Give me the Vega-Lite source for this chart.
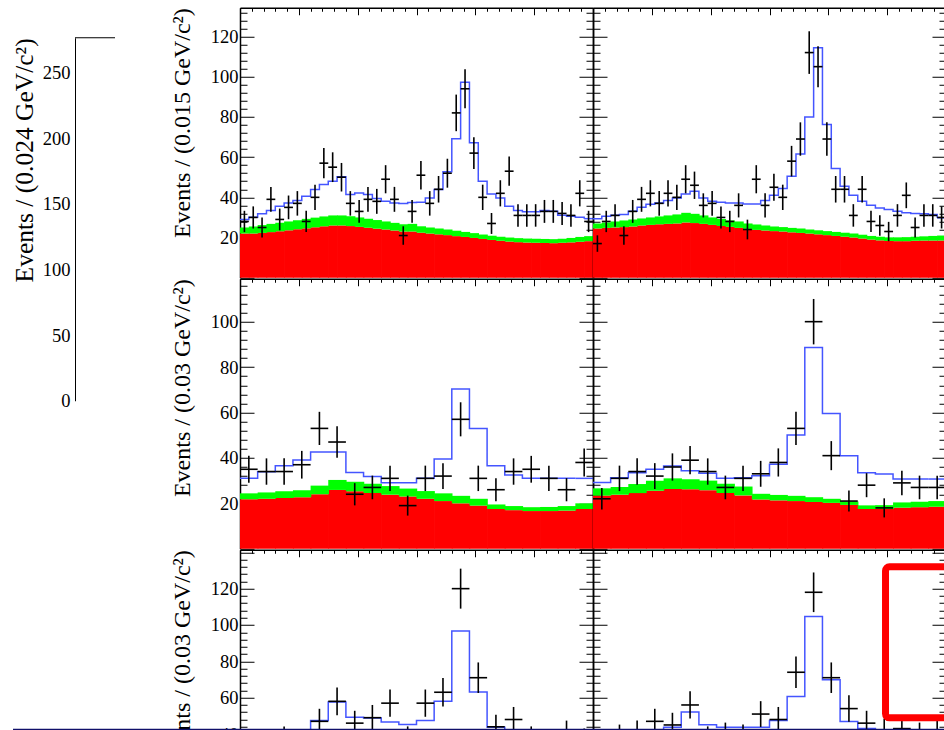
{
"$schema": "https://vega.github.io/schema/vega-lite/v6.json",
"background": "white",
"padding": {"left": 12, "top": 6.75, "right": 0, "bottom": 0},
"config": {
  "view": {"stroke": null},
  "axis": {"grid": false, "tickColor": "black", "tickWidth": 1, "domainColor": "black", "domainWidth": 1.5, "labelFont": "Liberation Serif", "titleFont": "Liberation Serif", "labelColor": "black", "titleColor": "black", "titleFontWeight": "normal", "labelFlush": false, "labelOverlap": false}
},
"columns": 3,
"spacing": {"row": 1, "column": 0},
"bounds": "flush",
"datasets": {
"tl": [
{"lo":1.000,"hi":1.015,"mid":1.0075,"n":28,"err":5.3,"red":22.0,"green":25.0,"fit":29.0},
{"lo":1.015,"hi":1.030,"mid":1.0225,"n":30,"err":5.5,"red":22.0,"green":25.5,"fit":30.1},
{"lo":1.030,"hi":1.045,"mid":1.0375,"n":25,"err":5.0,"red":22.3,"green":26.2,"fit":31.8},
{"lo":1.045,"hi":1.060,"mid":1.0525,"n":39,"err":6.2,"red":22.7,"green":26.8,"fit":33.4},
{"lo":1.060,"hi":1.075,"mid":1.0675,"n":29,"err":5.4,"red":23.1,"green":27.4,"fit":35.6},
{"lo":1.075,"hi":1.090,"mid":1.0825,"n":35,"err":5.9,"red":23.6,"green":28.0,"fit":37.2},
{"lo":1.090,"hi":1.105,"mid":1.0975,"n":37,"err":6.1,"red":24.1,"green":28.6,"fit":38.4},
{"lo":1.105,"hi":1.120,"mid":1.1125,"n":28,"err":5.3,"red":24.6,"green":29.3,"fit":40.5},
{"lo":1.120,"hi":1.135,"mid":1.1275,"n":40,"err":6.3,"red":25.1,"green":29.9,"fit":43.9},
{"lo":1.135,"hi":1.150,"mid":1.1425,"n":57,"err":7.5,"red":25.6,"green":30.5,"fit":46.4},
{"lo":1.150,"hi":1.165,"mid":1.1575,"n":55,"err":7.4,"red":26.0,"green":31.0,"fit":48.0},
{"lo":1.165,"hi":1.180,"mid":1.1725,"n":50,"err":7.1,"red":26.0,"green":31.0,"fit":50.2},
{"lo":1.180,"hi":1.195,"mid":1.1875,"n":37,"err":6.1,"red":25.7,"green":30.6,"fit":41.4},
{"lo":1.195,"hi":1.210,"mid":1.2025,"n":33,"err":5.7,"red":25.3,"green":30.0,"fit":42.2},
{"lo":1.210,"hi":1.225,"mid":1.2175,"n":39,"err":6.2,"red":24.9,"green":29.4,"fit":41.4},
{"lo":1.225,"hi":1.240,"mid":1.2325,"n":38,"err":6.2,"red":24.4,"green":28.7,"fit":39.4},
{"lo":1.240,"hi":1.255,"mid":1.2475,"n":49,"err":7.0,"red":24.0,"green":28.0,"fit":38.0},
{"lo":1.255,"hi":1.270,"mid":1.2625,"n":39,"err":6.2,"red":23.5,"green":27.3,"fit":37.2},
{"lo":1.270,"hi":1.285,"mid":1.2775,"n":21,"err":4.6,"red":23.0,"green":26.6,"fit":36.9},
{"lo":1.285,"hi":1.300,"mid":1.2925,"n":33,"err":5.7,"red":23.0,"green":26.8,"fit":37.4},
{"lo":1.300,"hi":1.315,"mid":1.3075,"n":51,"err":7.1,"red":22.4,"green":25.6,"fit":37.6},
{"lo":1.315,"hi":1.330,"mid":1.3225,"n":37,"err":6.1,"red":22.0,"green":25.0,"fit":39.7},
{"lo":1.330,"hi":1.345,"mid":1.3375,"n":44,"err":6.6,"red":21.6,"green":24.5,"fit":43.9},
{"lo":1.345,"hi":1.360,"mid":1.3525,"n":52,"err":7.2,"red":21.2,"green":24.0,"fit":52.7},
{"lo":1.360,"hi":1.375,"mid":1.3675,"n":82,"err":9.1,"red":20.7,"green":23.4,"fit":69.2},
{"lo":1.375,"hi":1.390,"mid":1.3825,"n":94,"err":9.7,"red":20.3,"green":22.8,"fit":97.3},
{"lo":1.390,"hi":1.405,"mid":1.3975,"n":62,"err":7.9,"red":19.8,"green":22.2,"fit":67.1},
{"lo":1.405,"hi":1.420,"mid":1.4125,"n":40,"err":6.3,"red":19.3,"green":21.5,"fit":48.0},
{"lo":1.420,"hi":1.435,"mid":1.4275,"n":27,"err":5.2,"red":18.8,"green":20.9,"fit":41.7},
{"lo":1.435,"hi":1.450,"mid":1.4425,"n":42,"err":6.5,"red":18.4,"green":20.4,"fit":39.7},
{"lo":1.450,"hi":1.465,"mid":1.4575,"n":53,"err":7.3,"red":18.0,"green":20.0,"fit":35.6},
{"lo":1.465,"hi":1.480,"mid":1.4725,"n":31,"err":5.6,"red":17.7,"green":19.7,"fit":33.4},
{"lo":1.480,"hi":1.495,"mid":1.4875,"n":31,"err":5.6,"red":17.5,"green":19.5,"fit":32.8},
{"lo":1.495,"hi":1.510,"mid":1.5025,"n":31,"err":5.6,"red":17.4,"green":19.4,"fit":32.8},
{"lo":1.510,"hi":1.525,"mid":1.5175,"n":33,"err":5.7,"red":17.3,"green":19.3,"fit":33.4},
{"lo":1.525,"hi":1.540,"mid":1.5325,"n":33,"err":5.7,"red":17.2,"green":19.2,"fit":33.1},
{"lo":1.540,"hi":1.555,"mid":1.5475,"n":32,"err":5.7,"red":17.4,"green":19.4,"fit":31.1},
{"lo":1.555,"hi":1.570,"mid":1.5625,"n":31,"err":5.6,"red":17.6,"green":19.8,"fit":30.6},
{"lo":1.570,"hi":1.585,"mid":1.5775,"n":42,"err":6.5,"red":17.9,"green":20.3,"fit":30.1},
{"lo":1.585,"hi":1.600,"mid":1.5925,"n":28,"err":5.3,"red":18.2,"green":20.7,"fit":29.4}
],
"tr": [
{"lo":1.000,"hi":1.015,"mid":1.0075,"n":17,"err":4.1,"red":24.5,"green":27.0,"fit":29.4},
{"lo":1.015,"hi":1.030,"mid":1.0225,"n":28,"err":5.3,"red":24.8,"green":27.5,"fit":30.6},
{"lo":1.030,"hi":1.045,"mid":1.0375,"n":31,"err":5.6,"red":25.0,"green":28.0,"fit":31.1},
{"lo":1.045,"hi":1.060,"mid":1.0525,"n":21,"err":4.6,"red":25.2,"green":28.5,"fit":31.4},
{"lo":1.060,"hi":1.075,"mid":1.0675,"n":33,"err":5.7,"red":25.5,"green":29.0,"fit":33.1},
{"lo":1.075,"hi":1.090,"mid":1.0825,"n":39,"err":6.2,"red":26.0,"green":29.5,"fit":35.1},
{"lo":1.090,"hi":1.105,"mid":1.0975,"n":42,"err":6.5,"red":26.3,"green":30.0,"fit":36.5},
{"lo":1.105,"hi":1.120,"mid":1.1125,"n":37,"err":6.1,"red":26.6,"green":30.5,"fit":37.2},
{"lo":1.120,"hi":1.135,"mid":1.1275,"n":42,"err":6.5,"red":26.8,"green":31.0,"fit":38.4},
{"lo":1.135,"hi":1.150,"mid":1.1425,"n":40,"err":6.3,"red":27.0,"green":31.5,"fit":39.7},
{"lo":1.150,"hi":1.165,"mid":1.1575,"n":49,"err":7.0,"red":27.5,"green":32.3,"fit":41.7},
{"lo":1.165,"hi":1.180,"mid":1.1725,"n":46,"err":6.8,"red":27.2,"green":31.8,"fit":43.0},
{"lo":1.180,"hi":1.195,"mid":1.1875,"n":36,"err":6.0,"red":26.8,"green":31.0,"fit":39.7},
{"lo":1.195,"hi":1.210,"mid":1.2025,"n":37,"err":6.1,"red":26.3,"green":30.0,"fit":38.0},
{"lo":1.210,"hi":1.225,"mid":1.2175,"n":30,"err":5.5,"red":25.8,"green":29.2,"fit":37.6},
{"lo":1.225,"hi":1.240,"mid":1.2325,"n":28,"err":5.3,"red":25.3,"green":28.5,"fit":37.2},
{"lo":1.240,"hi":1.255,"mid":1.2475,"n":36,"err":6.0,"red":24.8,"green":28.0,"fit":37.2},
{"lo":1.255,"hi":1.270,"mid":1.2625,"n":24,"err":4.9,"red":24.3,"green":27.0,"fit":36.7},
{"lo":1.270,"hi":1.285,"mid":1.2775,"n":49,"err":7.0,"red":23.8,"green":26.5,"fit":36.7},
{"lo":1.285,"hi":1.300,"mid":1.2925,"n":36,"err":6.0,"red":23.5,"green":26.0,"fit":38.4},
{"lo":1.300,"hi":1.315,"mid":1.3075,"n":45,"err":6.7,"red":23.2,"green":25.5,"fit":41.0},
{"lo":1.315,"hi":1.330,"mid":1.3225,"n":40,"err":6.3,"red":23.0,"green":25.2,"fit":44.4},
{"lo":1.330,"hi":1.345,"mid":1.3375,"n":58,"err":7.6,"red":22.6,"green":24.8,"fit":50.5},
{"lo":1.345,"hi":1.360,"mid":1.3525,"n":69,"err":8.3,"red":22.3,"green":24.5,"fit":61.6},
{"lo":1.360,"hi":1.375,"mid":1.3675,"n":112,"err":10.6,"red":22.0,"green":24.0,"fit":79.9},
{"lo":1.375,"hi":1.390,"mid":1.3825,"n":105,"err":10.2,"red":21.6,"green":23.6,"fit":114.4},
{"lo":1.390,"hi":1.405,"mid":1.3975,"n":69,"err":8.3,"red":21.2,"green":23.2,"fit":76.2},
{"lo":1.405,"hi":1.420,"mid":1.4125,"n":44,"err":6.6,"red":20.8,"green":22.8,"fit":54.3},
{"lo":1.420,"hi":1.435,"mid":1.4275,"n":44,"err":6.6,"red":20.4,"green":22.4,"fit":45.5},
{"lo":1.435,"hi":1.450,"mid":1.4425,"n":31,"err":5.6,"red":20.0,"green":22.0,"fit":41.0},
{"lo":1.450,"hi":1.465,"mid":1.4575,"n":44,"err":6.6,"red":19.5,"green":21.4,"fit":38.0},
{"lo":1.465,"hi":1.480,"mid":1.4725,"n":28,"err":5.3,"red":19.0,"green":20.8,"fit":36.1},
{"lo":1.480,"hi":1.495,"mid":1.4875,"n":26,"err":5.1,"red":18.6,"green":20.4,"fit":34.7},
{"lo":1.495,"hi":1.510,"mid":1.5025,"n":23,"err":4.8,"red":18.3,"green":20.1,"fit":33.9},
{"lo":1.510,"hi":1.525,"mid":1.5175,"n":31,"err":5.6,"red":18.2,"green":20.1,"fit":33.1},
{"lo":1.525,"hi":1.540,"mid":1.5325,"n":41,"err":6.4,"red":18.2,"green":20.2,"fit":32.3},
{"lo":1.540,"hi":1.555,"mid":1.5475,"n":25,"err":5.0,"red":18.4,"green":20.4,"fit":32.0},
{"lo":1.555,"hi":1.570,"mid":1.5625,"n":31,"err":5.6,"red":18.5,"green":20.6,"fit":31.8},
{"lo":1.570,"hi":1.585,"mid":1.5775,"n":31,"err":5.6,"red":18.5,"green":20.8,"fit":31.4},
{"lo":1.585,"hi":1.600,"mid":1.5925,"n":30,"err":5.5,"red":18.5,"green":21.0,"fit":29.8}
],
"ml": [
{"lo":1.00,"hi":1.03,"mid":1.015,"n":35,"err":5.9,"red":21.8,"green":24.4,"fit":31.0},
{"lo":1.03,"hi":1.06,"mid":1.045,"n":34,"err":5.8,"red":22.0,"green":24.8,"fit":33.9},
{"lo":1.06,"hi":1.09,"mid":1.075,"n":34,"err":5.8,"red":22.3,"green":25.3,"fit":36.6},
{"lo":1.09,"hi":1.12,"mid":1.105,"n":37,"err":6.1,"red":22.7,"green":25.8,"fit":39.1},
{"lo":1.12,"hi":1.15,"mid":1.135,"n":53,"err":7.3,"red":24.0,"green":27.8,"fit":42.6},
{"lo":1.15,"hi":1.18,"mid":1.165,"n":47,"err":6.9,"red":25.9,"green":30.3,"fit":42.6},
{"lo":1.18,"hi":1.21,"mid":1.195,"n":24,"err":4.9,"red":25.3,"green":29.5,"fit":33.6},
{"lo":1.21,"hi":1.24,"mid":1.225,"n":27,"err":5.2,"red":24.6,"green":28.6,"fit":31.8},
{"lo":1.24,"hi":1.27,"mid":1.255,"n":31,"err":5.6,"red":23.8,"green":27.6,"fit":29.1},
{"lo":1.27,"hi":1.30,"mid":1.285,"n":19,"err":4.4,"red":23.0,"green":26.5,"fit":29.1},
{"lo":1.30,"hi":1.33,"mid":1.315,"n":31,"err":5.6,"red":22.0,"green":25.4,"fit":31.0},
{"lo":1.33,"hi":1.36,"mid":1.345,"n":32,"err":5.7,"red":21.0,"green":24.4,"fit":39.5},
{"lo":1.36,"hi":1.39,"mid":1.375,"n":57,"err":7.5,"red":20.0,"green":23.3,"fit":70.3},
{"lo":1.39,"hi":1.42,"mid":1.405,"n":31,"err":5.6,"red":19.0,"green":22.0,"fit":53.0},
{"lo":1.42,"hi":1.45,"mid":1.435,"n":26,"err":5.1,"red":17.5,"green":19.5,"fit":36.5},
{"lo":1.45,"hi":1.48,"mid":1.465,"n":34,"err":5.8,"red":17.0,"green":18.8,"fit":32.5},
{"lo":1.48,"hi":1.51,"mid":1.495,"n":35,"err":5.9,"red":16.6,"green":18.3,"fit":31.0},
{"lo":1.51,"hi":1.54,"mid":1.525,"n":31,"err":5.6,"red":16.6,"green":18.4,"fit":31.0},
{"lo":1.54,"hi":1.57,"mid":1.555,"n":26,"err":5.1,"red":16.8,"green":18.8,"fit":31.0},
{"lo":1.57,"hi":1.60,"mid":1.585,"n":38,"err":6.2,"red":17.5,"green":20.0,"fit":31.0}
],
"mr": [
{"lo":1.00,"hi":1.03,"mid":1.015,"n":22,"err":4.7,"red":23.4,"green":26.6,"fit":29.2},
{"lo":1.03,"hi":1.06,"mid":1.045,"n":31,"err":5.6,"red":23.8,"green":27.2,"fit":31.3},
{"lo":1.06,"hi":1.09,"mid":1.075,"n":34,"err":5.8,"red":24.5,"green":28.5,"fit":33.5},
{"lo":1.09,"hi":1.12,"mid":1.105,"n":32,"err":5.7,"red":25.5,"green":30.0,"fit":35.0},
{"lo":1.12,"hi":1.15,"mid":1.135,"n":36,"err":6.0,"red":26.3,"green":31.0,"fit":36.4},
{"lo":1.15,"hi":1.18,"mid":1.165,"n":39,"err":6.2,"red":26.2,"green":30.6,"fit":34.3},
{"lo":1.18,"hi":1.21,"mid":1.195,"n":34,"err":5.8,"red":25.8,"green":30.0,"fit":33.2},
{"lo":1.21,"hi":1.24,"mid":1.225,"n":27,"err":5.2,"red":24.6,"green":28.6,"fit":31.0},
{"lo":1.24,"hi":1.27,"mid":1.255,"n":31,"err":5.6,"red":23.5,"green":27.4,"fit":31.3},
{"lo":1.27,"hi":1.30,"mid":1.285,"n":33,"err":5.7,"red":21.7,"green":24.2,"fit":32.2},
{"lo":1.30,"hi":1.33,"mid":1.315,"n":38,"err":6.2,"red":21.3,"green":23.7,"fit":37.2},
{"lo":1.33,"hi":1.36,"mid":1.345,"n":53,"err":7.3,"red":21.0,"green":23.3,"fit":50.1},
{"lo":1.36,"hi":1.39,"mid":1.375,"n":100,"err":10.0,"red":20.6,"green":22.7,"fit":88.6},
{"lo":1.39,"hi":1.42,"mid":1.405,"n":41,"err":6.4,"red":20.2,"green":22.0,"fit":59.6},
{"lo":1.42,"hi":1.45,"mid":1.435,"n":21,"err":4.6,"red":19.3,"green":20.8,"fit":40.9},
{"lo":1.45,"hi":1.48,"mid":1.465,"n":28,"err":5.3,"red":17.5,"green":19.1,"fit":33.5},
{"lo":1.48,"hi":1.51,"mid":1.495,"n":18,"err":4.2,"red":17.5,"green":19.2,"fit":32.9},
{"lo":1.51,"hi":1.54,"mid":1.525,"n":29,"err":5.4,"red":18.1,"green":20.4,"fit":30.7},
{"lo":1.54,"hi":1.57,"mid":1.555,"n":27,"err":5.2,"red":18.3,"green":20.7,"fit":30.7},
{"lo":1.57,"hi":1.60,"mid":1.585,"n":27,"err":5.2,"red":18.5,"green":21.0,"fit":30.7}
],
"bl": [
{"lo":1.00,"hi":1.03,"mid":1.015,"n":36,"err":6.0,"red":22.0,"green":25.0,"fit":38.0},
{"lo":1.03,"hi":1.06,"mid":1.045,"n":33,"err":5.7,"red":22.5,"green":25.5,"fit":39.0},
{"lo":1.06,"hi":1.09,"mid":1.075,"n":38,"err":6.2,"red":23.0,"green":26.5,"fit":40.0},
{"lo":1.09,"hi":1.12,"mid":1.105,"n":35,"err":5.9,"red":24.0,"green":28.0,"fit":41.0},
{"lo":1.12,"hi":1.15,"mid":1.135,"n":47,"err":6.9,"red":25.5,"green":30.0,"fit":47.5},
{"lo":1.15,"hi":1.18,"mid":1.165,"n":58,"err":7.6,"red":26.0,"green":30.5,"fit":57.6},
{"lo":1.18,"hi":1.21,"mid":1.195,"n":46,"err":6.8,"red":25.5,"green":30.0,"fit":49.3},
{"lo":1.21,"hi":1.24,"mid":1.225,"n":49,"err":7.0,"red":25.0,"green":29.0,"fit":48.8},
{"lo":1.24,"hi":1.27,"mid":1.255,"n":57,"err":7.5,"red":24.0,"green":28.0,"fit":46.6},
{"lo":1.27,"hi":1.30,"mid":1.285,"n":38,"err":6.2,"red":23.0,"green":27.0,"fit":45.3},
{"lo":1.30,"hi":1.33,"mid":1.315,"n":57,"err":7.5,"red":22.0,"green":25.5,"fit":47.5},
{"lo":1.33,"hi":1.36,"mid":1.345,"n":63,"err":7.9,"red":21.0,"green":24.5,"fit":58.1},
{"lo":1.36,"hi":1.39,"mid":1.375,"n":120,"err":11.0,"red":20.0,"green":23.0,"fit":96.7},
{"lo":1.39,"hi":1.42,"mid":1.405,"n":71,"err":8.4,"red":19.0,"green":22.0,"fit":63.1},
{"lo":1.42,"hi":1.45,"mid":1.435,"n":44,"err":6.6,"red":18.0,"green":20.5,"fit":43.8},
{"lo":1.45,"hi":1.48,"mid":1.465,"n":48,"err":6.9,"red":17.5,"green":19.5,"fit":40.0},
{"lo":1.48,"hi":1.51,"mid":1.495,"n":38,"err":6.2,"red":17.0,"green":19.0,"fit":39.0},
{"lo":1.51,"hi":1.54,"mid":1.525,"n":36,"err":6.0,"red":17.0,"green":19.0,"fit":38.0},
{"lo":1.54,"hi":1.57,"mid":1.555,"n":41,"err":6.4,"red":17.5,"green":19.5,"fit":38.0},
{"lo":1.57,"hi":1.60,"mid":1.585,"n":37,"err":6.1,"red":18.0,"green":20.0,"fit":38.0}
],
"br": [
{"lo":1.00,"hi":1.03,"mid":1.015,"n":36,"err":6.0,"red":22.0,"green":25.0,"fit":38.0},
{"lo":1.03,"hi":1.06,"mid":1.045,"n":39,"err":6.2,"red":22.5,"green":26.0,"fit":39.0},
{"lo":1.06,"hi":1.09,"mid":1.075,"n":41,"err":6.4,"red":23.0,"green":26.5,"fit":40.0},
{"lo":1.09,"hi":1.12,"mid":1.105,"n":47,"err":6.9,"red":24.0,"green":28.0,"fit":41.0},
{"lo":1.12,"hi":1.15,"mid":1.135,"n":45,"err":6.7,"red":25.0,"green":29.5,"fit":43.8},
{"lo":1.15,"hi":1.18,"mid":1.165,"n":56,"err":7.5,"red":25.5,"green":30.0,"fit":52.1},
{"lo":1.18,"hi":1.21,"mid":1.195,"n":38,"err":6.2,"red":25.0,"green":29.5,"fit":45.1},
{"lo":1.21,"hi":1.24,"mid":1.225,"n":40,"err":6.3,"red":24.0,"green":28.0,"fit":43.8},
{"lo":1.24,"hi":1.27,"mid":1.255,"n":39,"err":6.2,"red":23.0,"green":26.5,"fit":43.8},
{"lo":1.27,"hi":1.30,"mid":1.285,"n":51,"err":7.1,"red":22.0,"green":25.0,"fit":43.8},
{"lo":1.30,"hi":1.33,"mid":1.315,"n":48,"err":6.9,"red":21.5,"green":24.0,"fit":47.5},
{"lo":1.33,"hi":1.36,"mid":1.345,"n":74,"err":8.6,"red":21.0,"green":23.5,"fit":60.7},
{"lo":1.36,"hi":1.39,"mid":1.375,"n":118,"err":10.9,"red":20.5,"green":23.0,"fit":104.7},
{"lo":1.39,"hi":1.42,"mid":1.405,"n":71,"err":8.4,"red":20.0,"green":22.0,"fit":69.9},
{"lo":1.42,"hi":1.45,"mid":1.435,"n":54,"err":7.3,"red":19.0,"green":21.0,"fit":46.9},
{"lo":1.45,"hi":1.48,"mid":1.465,"n":46,"err":6.8,"red":18.0,"green":20.0,"fit":43.0},
{"lo":1.48,"hi":1.51,"mid":1.495,"n":42,"err":6.5,"red":18.0,"green":20.0,"fit":41.0},
{"lo":1.51,"hi":1.54,"mid":1.525,"n":43,"err":6.6,"red":18.0,"green":20.5,"fit":40.0},
{"lo":1.54,"hi":1.57,"mid":1.555,"n":40,"err":6.3,"red":18.5,"green":21.0,"fit":40.0},
{"lo":1.57,"hi":1.60,"mid":1.585,"n":41,"err":6.4,"red":18.5,"green":21.0,"fit":40.0}
]
},
"concat": [
{
 "width": 165, "height": 270,
 "data": {"values": [{"a": 0, "b": 40, "top": 276.7}]},
 "mark": {"type": "rule", "color": "black", "strokeWidth": 1},
 "encoding": {
  "x": {"field": "a", "type": "quantitative", "scale": {"domain": [0, 165], "nice": false, "zero": false}, "axis": null},
  "x2": {"field": "b"},
  "y": {"field": "top", "type": "quantitative", "scale": {"domain": [0, 276.7], "range": [393, 30], "nice": false},
   "axis": {"orient": "left", "values": [0,50,100,150,200,250], "ticks": false, "labelFontSize": 18.5, "labelPadding": 5, "domain": true, "domainWidth": 1, "title": "Events / (0.024 GeV/c²)", "titleFontSize": 25.5, "titleAnchor": "end", "titlePadding": 5}}
 }
},
{
 "width": 353, "height": 270,
 "data": {"name": "tl"},
 "resolve": {"axis": {"x": "independent", "y": "independent"}},
 "layer": [
  {"mark": {"type": "bar", "color": "#ff0000", "x2Offset": 0.7},
   "encoding": {
    "x": {"field": "lo", "type": "quantitative", "scale": {"domain": [1, 1.6], "nice": false, "zero": false}, "axis": {"orient": "top", "values": [1,1.1,1.2,1.3,1.4,1.5,1.6], "tickSize": -7, "labels": false, "domain": true, "title": null}},
    "x2": {"field": "hi"},
    "y": {"field": "red", "type": "quantitative", "scale": {"domain": [0, 134.3], "nice": false}, "axis": {"orient": "left", "values": [20,40,60,80,100,120], "ticks": false, "labelFontSize": 18.5, "labelPadding": 2, "domain": true, "title": "Events / (0.015 GeV/c²)", "titleFontSize": 24, "titleAnchor": "end", "titlePadding": 16}},
    "y2": {"datum": 0}}},
  {"mark": {"type": "bar", "color": "#00ff00", "x2Offset": 0.7},
   "encoding": {
    "x": {"field": "lo", "type": "quantitative", "scale": {"domain": [1, 1.6], "nice": false, "zero": false}, "axis": {"orient": "top", "values": [1.02,1.04,1.06,1.08,1.12,1.14,1.16,1.18,1.22,1.24,1.26,1.28,1.32,1.34,1.36,1.38,1.42,1.44,1.46,1.48,1.52,1.54,1.56,1.58], "tickSize": -3.5, "labels": false, "domain": false, "title": null}},
    "x2": {"field": "hi"},
    "y": {"field": "green", "type": "quantitative", "scale": {"domain": [0, 134.3], "nice": false}, "axis": {"orient": "left", "values": [0,20,40,60,80,100,120], "tickSize": -14, "labels": false, "domain": false, "title": null}},
    "y2": {"field": "red"}}},
  {"mark": {"type": "line", "interpolate": "step-after", "color": "#4455ff", "strokeWidth": 1.5},
   "encoding": {
    "x": {"field": "lo", "type": "quantitative", "scale": {"domain": [1, 1.6], "nice": false, "zero": false}, "axis": null},
    "y": {"field": "fit", "type": "quantitative", "scale": {"domain": [0, 134.3], "nice": false}, "axis": {"orient": "left", "values": [4,8,12,16,24,28,32,36,44,48,52,56,64,68,72,76,84,88,92,96,104,108,112,116,124,128,132], "tickSize": -7, "labels": false, "domain": false, "title": null}}}},
  {"transform": [{"filter": "datum.hi > 1.59"}],
   "mark": {"type": "rule", "color": "#4455ff", "strokeWidth": 1.5},
   "encoding": {
    "x": {"field": "lo", "type": "quantitative", "scale": {"domain": [1, 1.6], "nice": false, "zero": false}, "axis": null},
    "x2": {"field": "hi"},
    "y": {"field": "fit", "type": "quantitative", "scale": {"domain": [0, 134.3], "nice": false}, "axis": {"orient": "right", "values": [4,8,12,16,24,28,32,36,44,48,52,56,64,68,72,76,84,88,92,96,104,108,112,116,124,128,132], "tickSize": -7, "labels": false, "domain": false, "title": null}}}},
  {"mark": {"type": "rule", "color": "black", "strokeWidth": 1.6},
   "encoding": {
    "x": {"field": "lo", "type": "quantitative", "scale": {"domain": [1, 1.6], "nice": false, "zero": false}, "axis": null},
    "x2": {"field": "hi"},
    "y": {"field": "n", "type": "quantitative", "scale": {"domain": [0, 134.3], "nice": false}, "axis": {"orient": "right", "values": [0,20,40,60,80,100,120], "tickSize": -14, "labels": false, "domain": true, "title": null}}}},
  {"mark": {"type": "errorbar", "color": "black", "thickness": 1.6},
   "encoding": {
    "x": {"field": "mid", "type": "quantitative", "scale": {"domain": [1, 1.6], "nice": false, "zero": false}, "axis": null},
    "y": {"field": "n", "type": "quantitative", "scale": {"domain": [0, 134.3], "nice": false}, "axis": null},
    "yError": {"field": "err"}}}
 ]
},
{
 "width": 353, "height": 270,
 "data": {"name": "tr"},
 "resolve": {"axis": {"x": "independent", "y": "independent"}},
 "layer": [
  {"mark": {"type": "bar", "color": "#ff0000", "x2Offset": 0.7},
   "encoding": {
    "x": {"field": "lo", "type": "quantitative", "scale": {"domain": [1, 1.6], "nice": false, "zero": false}, "axis": {"orient": "top", "values": [1,1.1,1.2,1.3,1.4,1.5,1.6], "tickSize": -7, "labels": false, "domain": true, "title": null}},
    "x2": {"field": "hi"},
    "y": {"field": "red", "type": "quantitative", "scale": {"domain": [0, 134.3], "nice": false}, "axis": {"orient": "left", "ticks": false, "labels": false, "domain": true, "title": null}},
    "y2": {"datum": 0}}},
  {"mark": {"type": "bar", "color": "#00ff00", "x2Offset": 0.7},
   "encoding": {
    "x": {"field": "lo", "type": "quantitative", "scale": {"domain": [1, 1.6], "nice": false, "zero": false}, "axis": {"orient": "top", "values": [1.02,1.04,1.06,1.08,1.12,1.14,1.16,1.18,1.22,1.24,1.26,1.28,1.32,1.34,1.36,1.38,1.42,1.44,1.46,1.48,1.52,1.54,1.56,1.58], "tickSize": -3.5, "labels": false, "domain": false, "title": null}},
    "x2": {"field": "hi"},
    "y": {"field": "green", "type": "quantitative", "scale": {"domain": [0, 134.3], "nice": false}, "axis": {"orient": "left", "values": [0,20,40,60,80,100,120], "tickSize": -14, "labels": false, "domain": false, "title": null}},
    "y2": {"field": "red"}}},
  {"mark": {"type": "line", "interpolate": "step-after", "color": "#4455ff", "strokeWidth": 1.5},
   "encoding": {
    "x": {"field": "lo", "type": "quantitative", "scale": {"domain": [1, 1.6], "nice": false, "zero": false}, "axis": null},
    "y": {"field": "fit", "type": "quantitative", "scale": {"domain": [0, 134.3], "nice": false}, "axis": {"orient": "left", "values": [4,8,12,16,24,28,32,36,44,48,52,56,64,68,72,76,84,88,92,96,104,108,112,116,124,128,132], "tickSize": -7, "labels": false, "domain": false, "title": null}}}},
  {"transform": [{"filter": "datum.hi > 1.59"}],
   "mark": {"type": "rule", "color": "#4455ff", "strokeWidth": 1.5},
   "encoding": {
    "x": {"field": "lo", "type": "quantitative", "scale": {"domain": [1, 1.6], "nice": false, "zero": false}, "axis": null},
    "x2": {"field": "hi"},
    "y": {"field": "fit", "type": "quantitative", "scale": {"domain": [0, 134.3], "nice": false}, "axis": {"orient": "right", "values": [4,8,12,16,24,28,32,36,44,48,52,56,64,68,72,76,84,88,92,96,104,108,112,116,124,128,132], "tickSize": -7, "labels": false, "domain": false, "title": null}}}},
  {"mark": {"type": "rule", "color": "black", "strokeWidth": 1.6},
   "encoding": {
    "x": {"field": "lo", "type": "quantitative", "scale": {"domain": [1, 1.6], "nice": false, "zero": false}, "axis": null},
    "x2": {"field": "hi"},
    "y": {"field": "n", "type": "quantitative", "scale": {"domain": [0, 134.3], "nice": false}, "axis": {"orient": "right", "values": [0,20,40,60,80,100,120], "tickSize": -14, "labels": false, "domain": false, "title": null}}}},
  {"mark": {"type": "errorbar", "color": "black", "thickness": 1.6},
   "encoding": {
    "x": {"field": "mid", "type": "quantitative", "scale": {"domain": [1, 1.6], "nice": false, "zero": false}, "axis": null},
    "y": {"field": "n", "type": "quantitative", "scale": {"domain": [0, 134.3], "nice": false}, "axis": null},
    "yError": {"field": "err"}}}
 ]
},
{"width": 165, "height": 10, "data": {"values": []}, "mark": "point", "encoding": {}},
{
 "width": 353, "height": 270,
 "data": {"name": "ml"},
 "resolve": {"axis": {"x": "independent", "y": "independent"}},
 "layer": [
  {"mark": {"type": "bar", "color": "#ff0000", "x2Offset": 0.7},
   "encoding": {
    "x": {"field": "lo", "type": "quantitative", "scale": {"domain": [1, 1.6], "nice": false, "zero": false}, "axis": {"orient": "top", "values": [1,1.1,1.2,1.3,1.4,1.5,1.6], "tickSize": -7, "labels": false, "domain": true, "title": null}},
    "x2": {"field": "hi"},
    "y": {"field": "red", "type": "quantitative", "scale": {"domain": [0, 118.9], "nice": false}, "axis": {"orient": "left", "values": [20,40,60,80,100], "ticks": false, "labelFontSize": 18.5, "labelPadding": 2, "domain": true, "title": "Events / (0.03 GeV/c²)", "titleFontSize": 24, "titleAnchor": "end", "titlePadding": 16}},
    "y2": {"datum": 0}}},
  {"mark": {"type": "bar", "color": "#00ff00", "x2Offset": 0.7},
   "encoding": {
    "x": {"field": "lo", "type": "quantitative", "scale": {"domain": [1, 1.6], "nice": false, "zero": false}, "axis": {"orient": "top", "values": [1.02,1.04,1.06,1.08,1.12,1.14,1.16,1.18,1.22,1.24,1.26,1.28,1.32,1.34,1.36,1.38,1.42,1.44,1.46,1.48,1.52,1.54,1.56,1.58], "tickSize": -3.5, "labels": false, "domain": false, "title": null}},
    "x2": {"field": "hi"},
    "y": {"field": "green", "type": "quantitative", "scale": {"domain": [0, 118.9], "nice": false}, "axis": {"orient": "left", "values": [0,20,40,60,80,100], "tickSize": -14, "labels": false, "domain": false, "title": null}},
    "y2": {"field": "red"}}},
  {"mark": {"type": "line", "interpolate": "step-after", "color": "#4455ff", "strokeWidth": 1.5},
   "encoding": {
    "x": {"field": "lo", "type": "quantitative", "scale": {"domain": [1, 1.6], "nice": false, "zero": false}, "axis": null},
    "y": {"field": "fit", "type": "quantitative", "scale": {"domain": [0, 118.9], "nice": false}, "axis": {"orient": "left", "values": [4,8,12,16,24,28,32,36,44,48,52,56,64,68,72,76,84,88,92,96,104,108,112,116], "tickSize": -7, "labels": false, "domain": false, "title": null}}}},
  {"transform": [{"filter": "datum.hi > 1.59"}],
   "mark": {"type": "rule", "color": "#4455ff", "strokeWidth": 1.5},
   "encoding": {
    "x": {"field": "lo", "type": "quantitative", "scale": {"domain": [1, 1.6], "nice": false, "zero": false}, "axis": null},
    "x2": {"field": "hi"},
    "y": {"field": "fit", "type": "quantitative", "scale": {"domain": [0, 118.9], "nice": false}, "axis": {"orient": "right", "values": [4,8,12,16,24,28,32,36,44,48,52,56,64,68,72,76,84,88,92,96,104,108,112,116], "tickSize": -7, "labels": false, "domain": false, "title": null}}}},
  {"mark": {"type": "rule", "color": "black", "strokeWidth": 1.6},
   "encoding": {
    "x": {"field": "lo", "type": "quantitative", "scale": {"domain": [1, 1.6], "nice": false, "zero": false}, "axis": null},
    "x2": {"field": "hi"},
    "y": {"field": "n", "type": "quantitative", "scale": {"domain": [0, 118.9], "nice": false}, "axis": {"orient": "right", "values": [0,20,40,60,80,100], "tickSize": -14, "labels": false, "domain": true, "title": null}}}},
  {"mark": {"type": "errorbar", "color": "black", "thickness": 1.6},
   "encoding": {
    "x": {"field": "mid", "type": "quantitative", "scale": {"domain": [1, 1.6], "nice": false, "zero": false}, "axis": null},
    "y": {"field": "n", "type": "quantitative", "scale": {"domain": [0, 118.9], "nice": false}, "axis": null},
    "yError": {"field": "err"}}}
 ]
},
{
 "width": 353, "height": 270,
 "data": {"name": "mr"},
 "resolve": {"axis": {"x": "independent", "y": "independent"}},
 "layer": [
  {"mark": {"type": "bar", "color": "#ff0000", "x2Offset": 0.7},
   "encoding": {
    "x": {"field": "lo", "type": "quantitative", "scale": {"domain": [1, 1.6], "nice": false, "zero": false}, "axis": {"orient": "top", "values": [1,1.1,1.2,1.3,1.4,1.5,1.6], "tickSize": -7, "labels": false, "domain": true, "title": null}},
    "x2": {"field": "hi"},
    "y": {"field": "red", "type": "quantitative", "scale": {"domain": [0, 118.9], "nice": false}, "axis": {"orient": "left", "ticks": false, "labels": false, "domain": true, "title": null}},
    "y2": {"datum": 0}}},
  {"mark": {"type": "bar", "color": "#00ff00", "x2Offset": 0.7},
   "encoding": {
    "x": {"field": "lo", "type": "quantitative", "scale": {"domain": [1, 1.6], "nice": false, "zero": false}, "axis": {"orient": "top", "values": [1.02,1.04,1.06,1.08,1.12,1.14,1.16,1.18,1.22,1.24,1.26,1.28,1.32,1.34,1.36,1.38,1.42,1.44,1.46,1.48,1.52,1.54,1.56,1.58], "tickSize": -3.5, "labels": false, "domain": false, "title": null}},
    "x2": {"field": "hi"},
    "y": {"field": "green", "type": "quantitative", "scale": {"domain": [0, 118.9], "nice": false}, "axis": {"orient": "left", "values": [0,20,40,60,80,100], "tickSize": -14, "labels": false, "domain": false, "title": null}},
    "y2": {"field": "red"}}},
  {"mark": {"type": "line", "interpolate": "step-after", "color": "#4455ff", "strokeWidth": 1.5},
   "encoding": {
    "x": {"field": "lo", "type": "quantitative", "scale": {"domain": [1, 1.6], "nice": false, "zero": false}, "axis": null},
    "y": {"field": "fit", "type": "quantitative", "scale": {"domain": [0, 118.9], "nice": false}, "axis": {"orient": "left", "values": [4,8,12,16,24,28,32,36,44,48,52,56,64,68,72,76,84,88,92,96,104,108,112,116], "tickSize": -7, "labels": false, "domain": false, "title": null}}}},
  {"transform": [{"filter": "datum.hi > 1.59"}],
   "mark": {"type": "rule", "color": "#4455ff", "strokeWidth": 1.5},
   "encoding": {
    "x": {"field": "lo", "type": "quantitative", "scale": {"domain": [1, 1.6], "nice": false, "zero": false}, "axis": null},
    "x2": {"field": "hi"},
    "y": {"field": "fit", "type": "quantitative", "scale": {"domain": [0, 118.9], "nice": false}, "axis": {"orient": "right", "values": [4,8,12,16,24,28,32,36,44,48,52,56,64,68,72,76,84,88,92,96,104,108,112,116], "tickSize": -7, "labels": false, "domain": false, "title": null}}}},
  {"mark": {"type": "rule", "color": "black", "strokeWidth": 1.6},
   "encoding": {
    "x": {"field": "lo", "type": "quantitative", "scale": {"domain": [1, 1.6], "nice": false, "zero": false}, "axis": null},
    "x2": {"field": "hi"},
    "y": {"field": "n", "type": "quantitative", "scale": {"domain": [0, 118.9], "nice": false}, "axis": {"orient": "right", "values": [0,20,40,60,80,100], "tickSize": -14, "labels": false, "domain": false, "title": null}}}},
  {"mark": {"type": "errorbar", "color": "black", "thickness": 1.6},
   "encoding": {
    "x": {"field": "mid", "type": "quantitative", "scale": {"domain": [1, 1.6], "nice": false, "zero": false}, "axis": null},
    "y": {"field": "n", "type": "quantitative", "scale": {"domain": [0, 118.9], "nice": false}, "axis": null},
    "yError": {"field": "err"}}}
 ]
},
{"width": 165, "height": 10, "data": {"values": []}, "mark": "point", "encoding": {}},
{
 "width": 353, "height": 257,
 "data": {"name": "bl"},
 "resolve": {"axis": {"x": "independent", "y": "independent"}},
 "layer": [
  {"mark": {"type": "bar", "color": "#ff0000", "x2Offset": 0.7},
   "encoding": {
    "x": {"field": "lo", "type": "quantitative", "scale": {"domain": [1, 1.6], "nice": false, "zero": false}, "axis": {"orient": "top", "values": [1,1.1,1.2,1.3,1.4,1.5,1.6], "tickSize": -7, "labels": false, "domain": true, "title": null}},
    "x2": {"field": "hi"},
    "y": {"field": "red", "type": "quantitative", "scale": {"domain": [0, 141.4], "nice": false}, "axis": {"orient": "left", "values": [20,40,60,80,100,120], "ticks": false, "labelFontSize": 18.5, "labelPadding": 2, "domain": true, "title": "Events / (0.03 GeV/c²)", "titleFontSize": 24, "titleAnchor": "end", "titlePadding": 16}},
    "y2": {"datum": 0}}},
  {"mark": {"type": "bar", "color": "#00ff00", "x2Offset": 0.7},
   "encoding": {
    "x": {"field": "lo", "type": "quantitative", "scale": {"domain": [1, 1.6], "nice": false, "zero": false}, "axis": {"orient": "top", "values": [1.02,1.04,1.06,1.08,1.12,1.14,1.16,1.18,1.22,1.24,1.26,1.28,1.32,1.34,1.36,1.38,1.42,1.44,1.46,1.48,1.52,1.54,1.56,1.58], "tickSize": -3.5, "labels": false, "domain": false, "title": null}},
    "x2": {"field": "hi"},
    "y": {"field": "green", "type": "quantitative", "scale": {"domain": [0, 141.4], "nice": false}, "axis": {"orient": "left", "values": [0,20,40,60,80,100,120,140], "tickSize": -14, "labels": false, "domain": false, "title": null}},
    "y2": {"field": "red"}}},
  {"mark": {"type": "line", "interpolate": "step-after", "color": "#4455ff", "strokeWidth": 1.5},
   "encoding": {
    "x": {"field": "lo", "type": "quantitative", "scale": {"domain": [1, 1.6], "nice": false, "zero": false}, "axis": null},
    "y": {"field": "fit", "type": "quantitative", "scale": {"domain": [0, 141.4], "nice": false}, "axis": {"orient": "left", "values": [4,8,12,16,24,28,32,36,44,48,52,56,64,68,72,76,84,88,92,96,104,108,112,116,124,128,132,136], "tickSize": -7, "labels": false, "domain": false, "title": null}}}},
  {"transform": [{"filter": "datum.hi > 1.59"}],
   "mark": {"type": "rule", "color": "#4455ff", "strokeWidth": 1.5},
   "encoding": {
    "x": {"field": "lo", "type": "quantitative", "scale": {"domain": [1, 1.6], "nice": false, "zero": false}, "axis": null},
    "x2": {"field": "hi"},
    "y": {"field": "fit", "type": "quantitative", "scale": {"domain": [0, 141.4], "nice": false}, "axis": {"orient": "right", "values": [4,8,12,16,24,28,32,36,44,48,52,56,64,68,72,76,84,88,92,96,104,108,112,116,124,128,132,136], "tickSize": -7, "labels": false, "domain": false, "title": null}}}},
  {"mark": {"type": "rule", "color": "black", "strokeWidth": 1.6},
   "encoding": {
    "x": {"field": "lo", "type": "quantitative", "scale": {"domain": [1, 1.6], "nice": false, "zero": false}, "axis": null},
    "x2": {"field": "hi"},
    "y": {"field": "n", "type": "quantitative", "scale": {"domain": [0, 141.4], "nice": false}, "axis": {"orient": "right", "values": [0,20,40,60,80,100,120,140], "tickSize": -14, "labels": false, "domain": true, "title": null}}}},
  {"mark": {"type": "errorbar", "color": "black", "thickness": 1.6},
   "encoding": {
    "x": {"field": "mid", "type": "quantitative", "scale": {"domain": [1, 1.6], "nice": false, "zero": false}, "axis": null},
    "y": {"field": "n", "type": "quantitative", "scale": {"domain": [0, 141.4], "nice": false}, "axis": null},
    "yError": {"field": "err"}}}
 ]
},
{
 "width": 353, "height": 257,
 "data": {"name": "br"},
 "resolve": {"axis": {"x": "independent", "y": "independent"}},
 "layer": [
  {"mark": {"type": "bar", "color": "#ff0000", "x2Offset": 0.7},
   "encoding": {
    "x": {"field": "lo", "type": "quantitative", "scale": {"domain": [1, 1.6], "nice": false, "zero": false}, "axis": {"orient": "top", "values": [1,1.1,1.2,1.3,1.4,1.5,1.6], "tickSize": -7, "labels": false, "domain": true, "title": null}},
    "x2": {"field": "hi"},
    "y": {"field": "red", "type": "quantitative", "scale": {"domain": [0, 141.4], "nice": false}, "axis": {"orient": "left", "ticks": false, "labels": false, "domain": true, "title": null}},
    "y2": {"datum": 0}}},
  {"mark": {"type": "bar", "color": "#00ff00", "x2Offset": 0.7},
   "encoding": {
    "x": {"field": "lo", "type": "quantitative", "scale": {"domain": [1, 1.6], "nice": false, "zero": false}, "axis": {"orient": "top", "values": [1.02,1.04,1.06,1.08,1.12,1.14,1.16,1.18,1.22,1.24,1.26,1.28,1.32,1.34,1.36,1.38,1.42,1.44,1.46,1.48,1.52,1.54,1.56,1.58], "tickSize": -3.5, "labels": false, "domain": false, "title": null}},
    "x2": {"field": "hi"},
    "y": {"field": "green", "type": "quantitative", "scale": {"domain": [0, 141.4], "nice": false}, "axis": {"orient": "left", "values": [0,20,40,60,80,100,120,140], "tickSize": -14, "labels": false, "domain": false, "title": null}},
    "y2": {"field": "red"}}},
  {"mark": {"type": "line", "interpolate": "step-after", "color": "#4455ff", "strokeWidth": 1.5},
   "encoding": {
    "x": {"field": "lo", "type": "quantitative", "scale": {"domain": [1, 1.6], "nice": false, "zero": false}, "axis": null},
    "y": {"field": "fit", "type": "quantitative", "scale": {"domain": [0, 141.4], "nice": false}, "axis": {"orient": "left", "values": [4,8,12,16,24,28,32,36,44,48,52,56,64,68,72,76,84,88,92,96,104,108,112,116,124,128,132,136], "tickSize": -7, "labels": false, "domain": false, "title": null}}}},
  {"transform": [{"filter": "datum.hi > 1.59"}],
   "mark": {"type": "rule", "color": "#4455ff", "strokeWidth": 1.5},
   "encoding": {
    "x": {"field": "lo", "type": "quantitative", "scale": {"domain": [1, 1.6], "nice": false, "zero": false}, "axis": null},
    "x2": {"field": "hi"},
    "y": {"field": "fit", "type": "quantitative", "scale": {"domain": [0, 141.4], "nice": false}, "axis": {"orient": "right", "values": [4,8,12,16,24,28,32,36,44,48,52,56,64,68,72,76,84,88,92,96,104,108,112,116,124,128,132,136], "tickSize": -7, "labels": false, "domain": false, "title": null}}}},
  {"mark": {"type": "rule", "color": "black", "strokeWidth": 1.6},
   "encoding": {
    "x": {"field": "lo", "type": "quantitative", "scale": {"domain": [1, 1.6], "nice": false, "zero": false}, "axis": null},
    "x2": {"field": "hi"},
    "y": {"field": "n", "type": "quantitative", "scale": {"domain": [0, 141.4], "nice": false}, "axis": {"orient": "right", "values": [0,20,40,60,80,100,120,140], "tickSize": -14, "labels": false, "domain": false, "title": null}}}},
  {"mark": {"type": "errorbar", "color": "black", "thickness": 1.6},
   "encoding": {
    "x": {"field": "mid", "type": "quantitative", "scale": {"domain": [1, 1.6], "nice": false, "zero": false}, "axis": null},
    "y": {"field": "n", "type": "quantitative", "scale": {"domain": [0, 141.4], "nice": false}, "axis": null},
    "yError": {"field": "err"}}},
  {"data": {"values": [{"x1": 1.4972, "x2": 1.75, "y1": 132.0, "y2": 48.9}]},
   "mark": {"type": "rect", "filled": false, "color": "#ff0000", "strokeWidth": 7, "cornerRadius": 4},
   "encoding": {
    "x": {"field": "x1", "type": "quantitative", "scale": {"domain": [1, 1.6], "nice": false, "zero": false}, "axis": null},
    "x2": {"field": "x2"},
    "y": {"field": "y1", "type": "quantitative", "scale": {"domain": [0, 141.4], "nice": false}, "axis": null},
    "y2": {"field": "y2"}}},
  {"data": {"values": [{"x1": 0.0142, "x2": 1.6, "y": 42.4}]},
   "mark": {"type": "rule", "color": "#10106a", "strokeWidth": 2},
   "encoding": {
    "x": {"field": "x1", "type": "quantitative", "scale": {"domain": [1, 1.6], "nice": false, "zero": false}, "axis": null},
    "x2": {"field": "x2"},
    "y": {"field": "y", "type": "quantitative", "scale": {"domain": [0, 141.4], "nice": false}, "axis": null}}}
 ]
}
]
}
